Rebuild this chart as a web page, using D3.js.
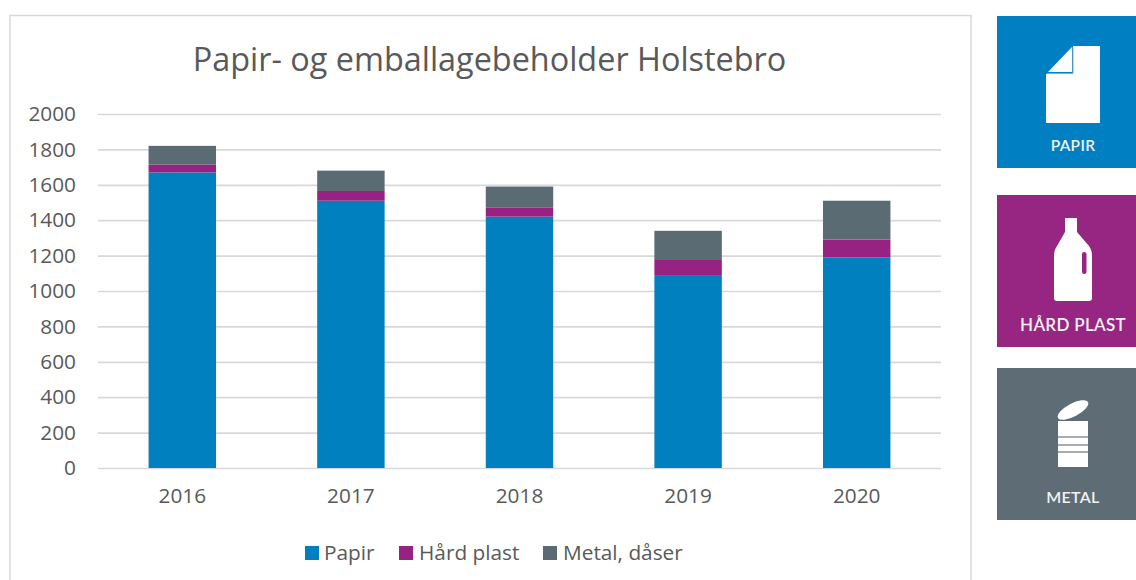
<!DOCTYPE html>
<html><head><meta charset="utf-8">
<script src="https://cdn.jsdelivr.net/npm/d3@7/dist/d3.min.js"></script>
<style>html,body{margin:0;padding:0;background:#fff;overflow:hidden}svg{display:block}text{font-family:"Open Sans",sans-serif}</style>
</head><body><svg id="c" width="1136" height="580"></svg>
<script>
const years = ["2016","2017","2018","2019","2020"];
const papir = [1670,1510,1420,1090,1190];
const haardPlast = [45,55,50,90,100];
const metal = [105,115,120,160,220];
const seriesNames = ["Papir","Hård plast","Metal, dåser"];
const seriesColors = ["#0080bf","#962282","#5b6b74"];
const yTicks = [0,200,400,600,800,1000,1200,1400,1600,1800,2000];
const title = "Papir- og emballagebeholder Holstebro";
const panels = [
 {label:"PAPIR",color:"#0080c2",y:16,h:152,ty:151,fs:15.5},
 {label:"HÅRD PLAST",color:"#962682",y:195,h:152,ty:331,fs:17},
 {label:"METAL",color:"#5e6d75",y:368,h:152,ty:503,fs:16}
];
const svg = d3.select("#c");
svg.append("rect").attr("x",10).attr("y",15.5).attr("width",961).attr("height",600).attr("fill","#fff").attr("stroke","#d9d9d9").attr("stroke-width",1.5);
const x = d3.scaleBand().domain(years).range([98,941]).paddingInner(0.6).paddingOuter(0.3);
const y = d3.scaleLinear().domain([0,2000]).range([468,114]);
svg.append("text").attr("x",489.5).attr("y",71).attr("text-anchor","middle").attr("font-size",32.4).attr("fill","#595959").text(title);
const yAxis = d3.axisLeft(y).tickValues(yTicks).tickSize(-843).tickPadding(22).tickFormat(d3.format("d"));
const gy = svg.append("g").attr("transform","translate(98,0)").call(yAxis);
gy.select(".domain").remove();
gy.selectAll("line").attr("stroke","#d9d9d9").attr("stroke-width",1.7);
gy.selectAll("text").attr("font-size",20.8).attr("fill","#595959");
const xAxis = d3.axisBottom(x).tickSize(0).tickPadding(20);
const gx = svg.append("g").attr("transform","translate(0,468)").call(xAxis);
gx.select(".domain").remove();
gx.selectAll("text").attr("font-size",20.8).attr("fill","#595959");
const rows = years.map((yr,i)=>({yr,s0:papir[i],s1:haardPlast[i],s2:metal[i]}));
const stack = d3.stack().keys(["s0","s1","s2"])(rows);
svg.append("g").selectAll("g").data(stack).join("g").attr("fill",(d,i)=>seriesColors[i])
 .selectAll("rect").data(d=>d).join("rect")
 .attr("x",d=>x(d.data.yr)).attr("width",x.bandwidth())
 .attr("y",d=>y(d[1])).attr("height",d=>y(d[0])-y(d[1]));
const legX = [305,399,543], legT=[324,419,563];
const lg = svg.append("g");
seriesNames.forEach((n,i)=>{
 lg.append("rect").attr("x",legX[i]).attr("y",546).attr("width",14).attr("height",14).attr("fill",seriesColors[i]);
 lg.append("text").attr("x",legT[i]).attr("y",560).attr("font-size",20.8).attr("fill","#595959").text(n);
});
const side = svg.append("g");
panels.forEach(p=>{
 side.append("rect").attr("x",997).attr("y",p.y).attr("width",139).attr("height",p.h).attr("fill",p.color);
 side.append("text").attr("x",1073).attr("y",p.ty).attr("text-anchor","middle").attr("font-family","Lato").style("font-family","Lato").attr("font-size",p.fs).attr("font-weight",600).attr("letter-spacing",0.3).attr("fill","#f2f2f2").text(p.label);
});
// pictograms
side.append("path").attr("fill","#fff").attr("d","M1073,46H1100V123H1046V74H1073Z");
side.append("path").attr("fill","#fff").attr("d","M1072,47V72H1048Z");
side.append("path").attr("fill","none").attr("stroke","#8fa9bf").attr("stroke-width",1).attr("d","M1073,47V73.5H1047");
side.append("path").attr("fill","#fff").attr("d","M1065,218H1077V232L1089,246Q1092,250 1092,256V298Q1092,301 1089,301H1057Q1054,301 1054,298V256Q1054,250 1057,246L1065,232Z");
side.append("rect").attr("x",1082).attr("y",252).attr("width",4.5).attr("height",22).attr("rx",2.2).attr("fill","#962682");
side.append("ellipse").attr("cx",1073).attr("cy",410).attr("rx",17).attr("ry",6.5).attr("fill","#fff").attr("transform","rotate(-28 1073 410)");
side.append("rect").attr("x",1058).attr("y",421).attr("width",30).attr("height",46).attr("fill","#fff");
[437,445,452].forEach(v=>side.append("rect").attr("x",1058).attr("y",v-0.8).attr("width",30).attr("height",1.6).attr("fill","#8f9aa0"));
</script></body></html>
